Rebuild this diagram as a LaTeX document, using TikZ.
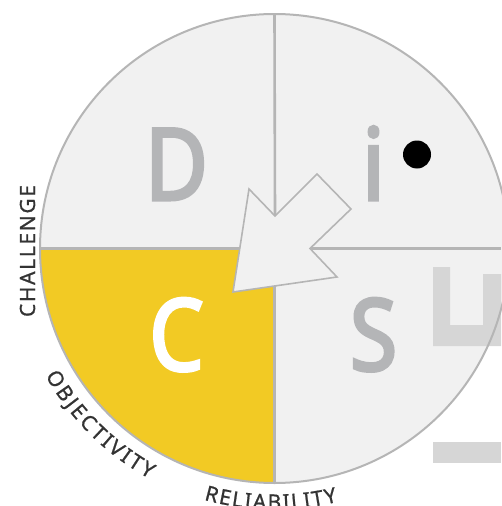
\documentclass[tikz,border=0pt]{standalone}
\usepackage{fontspec}
\usetikzlibrary{decorations.text}
\newfontfamily\bigf{Noto Sans}[FakeBold=3, FakeStretch=0.86]
\newfontfamily\labf{Noto Sans}[FakeBold=0.8]
\definecolor{bgc}{HTML}{F1F1F1}
\definecolor{linec}{HTML}{B5B5B5}
\definecolor{yel}{HTML}{F2CA24}
\definecolor{letc}{HTML}{B4B5B7}
\definecolor{shc}{HTML}{D6D6D6}
\definecolor{labc}{HTML}{333333}
\tikzset{
  sep/.style={draw=linec, line width=2.6pt},
  rim/.style={draw=linec, line width=2pt},
  bigarrow/.style={draw=linec, fill=bgc, line width=1.6pt, line join=miter},
  letter/.style={anchor=base, inner sep=0pt, font=\bigf\fontsize{100}{100}\selectfont},
  arclabel/.style={decorate, decoration={text along path, text={|\labf\fontsize{21}{21}\selectfont|#1}, text color=labc, text align={fit to path}}}
}
\begin{document}
\begin{tikzpicture}[x=1pt,y=-1pt]
\useasboundingbox (0,0) rectangle (501,506);
\coordinate (O) at (274.5,248.5);
\coordinate (top) at (274.5,14);
\coordinate (left) at (40,248.5);
\coordinate (bottom) at (274.5,483);
\coordinate (right) at (501,248.5);
% disc and yellow quadrant
\fill[bgc] (O) circle[radius=234.5pt];
\fill[yel] (O) -- (left) arc[start angle=180,end angle=270,radius=234.5pt] -- cycle;
% light grey shapes on the right
\fill[shc] (433,267) -- (450,267) -- (450,325) -- (483,325) -- (483,274) -- (501,274) -- (501,346) -- (433,346) -- cycle;
\fill[shc] (433,442) rectangle (501,463);
% separators
\coordinate (notchL) at (275,216);
\coordinate (notchR) at (310,248.5);
\draw[sep] (top) -- (notchL);
\draw[sep] (notchR) -- (right);
\draw[sep] (left) -- (O) -- (bottom);
\draw[rim] (O) circle[radius=234.5pt];
% arrow
\coordinate (tip) at (233,292);
\draw[bigarrow] (tip) -- (249,189) -- (notchL) -- (317,174) -- (351,209) -- (notchR) -- (337,277) -- cycle;
% letters
\node[letter, text=letc] (D) at (176.5,200) {D};
\node[letter, text=letc] (I) at (373.5,200) {i};
\node[letter, text=white] (C) at (176.5,370.5) {C};
\node[letter, text=letc] (S) at (373.5,370.5) {S};
\fill[black] (417,154.5) circle[radius=14pt];
% labels along the rim
\coordinate (chS) at (35,317);
\coordinate (chE) at (35,185);
\path[arclabel=CHALLENGE] (chS) -- (chE);
\path[arclabel=OBJECTIVITY] ([shift={(209:262pt)}]O) arc[start angle=209,end angle=241.5,radius=262pt];
\path[arclabel=RELIABILITY] ([shift={(254.3:261pt)}]O) arc[start angle=254.3,end angle=284,radius=261pt];
\end{tikzpicture}
\end{document}
